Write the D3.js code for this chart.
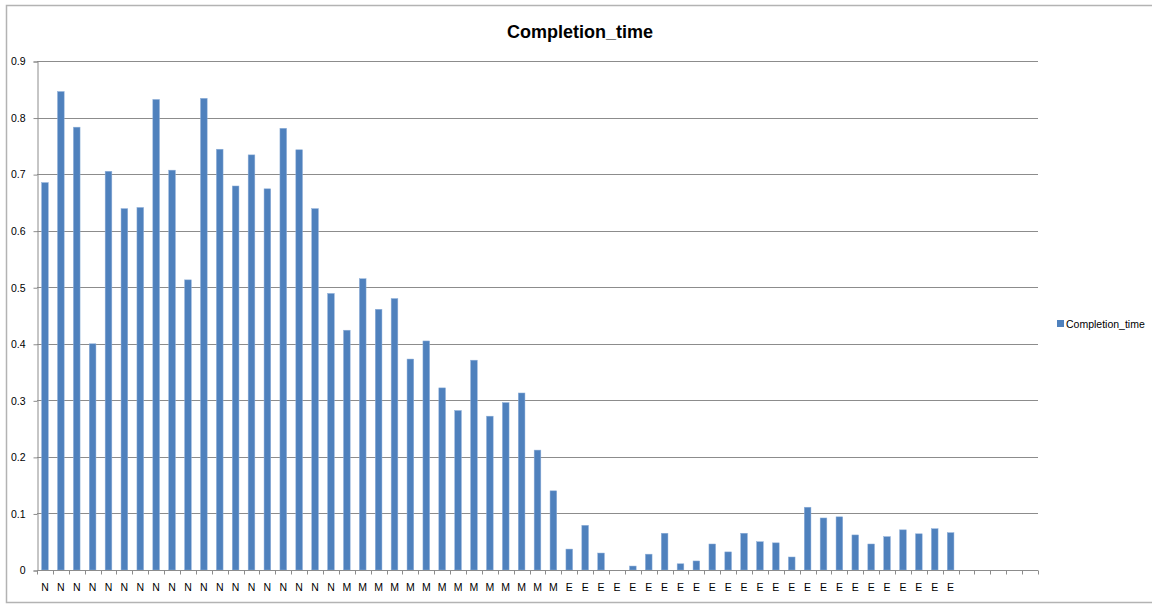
<!DOCTYPE html>
<html><head><meta charset="utf-8">
<script src="https://cdn.jsdelivr.net/npm/d3@7/dist/d3.min.js"></script>
<style>body{margin:0;background:#fff}svg{display:block}text{font-family:"Liberation Sans",Arial,sans-serif}</style>
</head><body>
<svg id="c" width="1152" height="605"></svg>
<script>
const categories = [
  "N","N","N","N","N","N","N","N","N","N","N","N","N","N","N","N","N","N","N",
  "M","M","M","M","M","M","M","M","M","M","M","M","M","M",
  "E","E","E","E","E","E","E","E","E","E","E","E","E","E","E","E","E","E","E","E","E","E","E","E","E",
  "","","","",""
];
const completionTime = [
  0.685,0.846,0.783,0.400,0.705,0.639,0.641,0.832,0.707,0.513,0.834,0.744,0.679,0.734,0.674,0.781,0.743,0.639,0.489,
  0.424,0.515,0.461,0.480,0.373,0.405,0.322,0.282,0.371,0.272,0.296,0.313,0.212,0.140,
  0.037,0.079,0.030,0,0.007,0.028,0.065,0.011,0.016,0.046,0.032,0.065,0.050,0.048,0.023,
  0.111,0.092,0.094,0.062,0.046,0.059,0.071,0.064,0.073,0.066,
  null,null,null,null,null
];
const yTicks = [0,0.1,0.2,0.3,0.4,0.5,0.6,0.7,0.8,0.9];
const yTickLabels = ["0","0.1","0.2","0.3","0.4","0.5","0.6","0.7","0.8","0.9"];
const seriesName = "Completion_time";
const chartTitle = "Completion_time";

(function(){
const svg = d3.select("#c");
const mLeft = 37, mRight = 1038, mTop = 61, mBottom = 570;
const idx = d3.range(categories.length);
const x = d3.scaleBand().domain(idx).range([mLeft, mRight]).paddingInner(0.58).paddingOuter(0.29);
const xb = d3.scaleBand().domain(idx).range([mLeft, mRight]);
const y = d3.scaleLinear().domain([0, 0.9]).range([mBottom, mTop]);

// outer border
svg.append("rect").attr("x",6.5).attr("y",5.5).attr("width",1160).attr("height",597)
  .attr("fill","none").attr("stroke","#b3b3b3").attr("stroke-width",1.5);

// gridlines
svg.append("g").selectAll("line").data(yTicks.filter(d=>d>0)).join("line")
  .attr("x1",mLeft).attr("x2",mRight).attr("y1",d=>Math.round(y(d))+0.5).attr("y2",d=>Math.round(y(d))+0.5)
  .attr("stroke","#8c8c8c").attr("stroke-width",1);

// y axis
const yAxis = d3.axisLeft(y).tickValues(yTicks).tickFormat((d,i)=>yTickLabels[i]).tickSize(4).tickPadding(8);
const gy = svg.append("g").attr("transform",`translate(${mLeft+0.5},0.5)`).call(yAxis);
gy.select(".domain").attr("stroke","#8c8c8c");
gy.selectAll(".tick line").attr("stroke","#8c8c8c");
gy.selectAll("text").attr("font-size",10.5).attr("fill","#000");

// bars
svg.append("g").selectAll("rect").data(idx.filter(i=>completionTime[i]!=null && completionTime[i]>0)).join("rect")
  .attr("x",i=>x(i)).attr("width",x.bandwidth())
  .attr("y",i=>y(completionTime[i])).attr("height",i=>y(0)-y(completionTime[i]))
  .attr("fill","#4f81bd").attr("stroke","#8fb0d9").attr("stroke-width",0.5);

// x axis
const xAxisG = svg.append("g").attr("transform",`translate(0,${mBottom+0.5})`);
xAxisG.append("line").attr("x1",mLeft).attr("x2",mRight).attr("stroke","#8c8c8c");
xAxisG.selectAll("line.tk").data(d3.range(categories.length+1)).join("line").attr("class","tk")
  .attr("x1",i=>Math.round(mLeft + i*xb.step())+0.5).attr("x2",i=>Math.round(mLeft + i*xb.step())+0.5)
  .attr("y1",0).attr("y2",4).attr("stroke","#8c8c8c");
xAxisG.selectAll("text").data(idx).join("text")
  .attr("x",i=>xb(i)+xb.bandwidth()/2).attr("y",20).attr("text-anchor","middle")
  .attr("font-size",10.5).attr("fill","#000").text(i=>categories[i]);

// title
svg.append("text").attr("x",580).attr("y",38).attr("text-anchor","middle")
  .attr("font-size",18).attr("font-weight","bold").attr("fill","#000").text(chartTitle);

// legend
svg.append("rect").attr("x",1057).attr("y",320).attr("width",7).attr("height",7).attr("fill","#4f81bd");
svg.append("text").attr("x",1066).attr("y",328).attr("font-size",10.5).attr("fill","#000").text(seriesName);
})();
</script>
</body></html>
